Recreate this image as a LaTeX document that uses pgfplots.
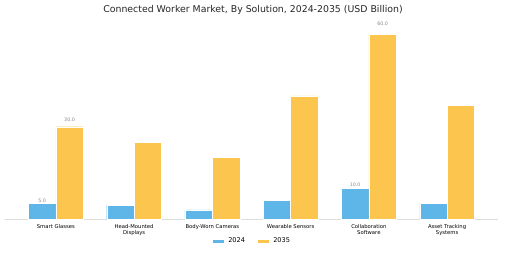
\documentclass[border=0pt]{standalone}
\usepackage{pgfplots}
\pgfplotsset{compat=1.18}
\usepackage{fontspec}
\setmainfont{DejaVu Sans}
\definecolor{cblue}{HTML}{5DB5E8}
\definecolor{corange}{HTML}{FBC54E}
\definecolor{axgray}{HTML}{DDDDDD}
\definecolor{lblgray}{HTML}{888888}
\begin{document}
\begin{tikzpicture}[x=1bp,y=1bp]
\path[use as bounding box] (0,0) rectangle (505,253);
\node[font=\fontsize{9.4}{11}\selectfont, text=black!85] at (253,243) {Connected Worker Market, By Solution, 2024-2035 (USD Billion)};
\begin{axis}[
  at={(5bp,34bp)}, anchor=south west,
  scale only axis, width=493bp, height=200bp,
  xmin=-0.65, xmax=5.65, ymin=0, ymax=65,
  axis y line=none, axis x line*=bottom,
  x axis line style={draw=axgray, line width=0.6pt},
  xtick=data, xtick style={draw=none},
  xticklabels={Smart Glasses, Head-Mounted\\Displays, Body-Worn Cameras, Wearable Sensors, Collaboration\\Software, Asset Tracking\\Systems},
  xticklabel style={font=\fontsize{5.3}{6}\selectfont, align=center, yshift=2pt},
  ybar, bar width=0.35,
  clip=false,
  visualization depends on={y \as \rawy},
  nodes near coords={\pgfplotspointmeta},
  point meta=explicit symbolic,
  every node near coord/.append style={font=\fontsize{4.8}{5}\selectfont, text=lblgray, yshift={(0.127*\rawy-2.6)*1bp}},
  legend style={at={(0.503,-0.11)}, anchor=center, draw=none, legend columns=2, font=\fontsize{6.6}{7.5}\selectfont, nodes={inner xsep=4bp}, /tikz/every even column/.append style={column sep=8bp}},
  legend image code/.code={\fill[#1] (0bp,-2.3bp) rectangle (12bp,2.3bp);},
]
\addplot[fill=cblue, draw=white, line width=0.3pt, bar shift=-0.175] coordinates {(0,5) [5.0] (1,4.5) [] (2,3) [] (3,6) [] (4,10) [10.0] (5,5) []};
\addplot[fill=corange, draw=white, line width=0.3pt, bar shift=0.175] coordinates {(0,30) [30.0] (1,25) [] (2,20) [] (3,40) [] (4,60) [60.0] (5,37) []};
\legend{2024,2035}
\end{axis}
\end{tikzpicture}
\end{document}
